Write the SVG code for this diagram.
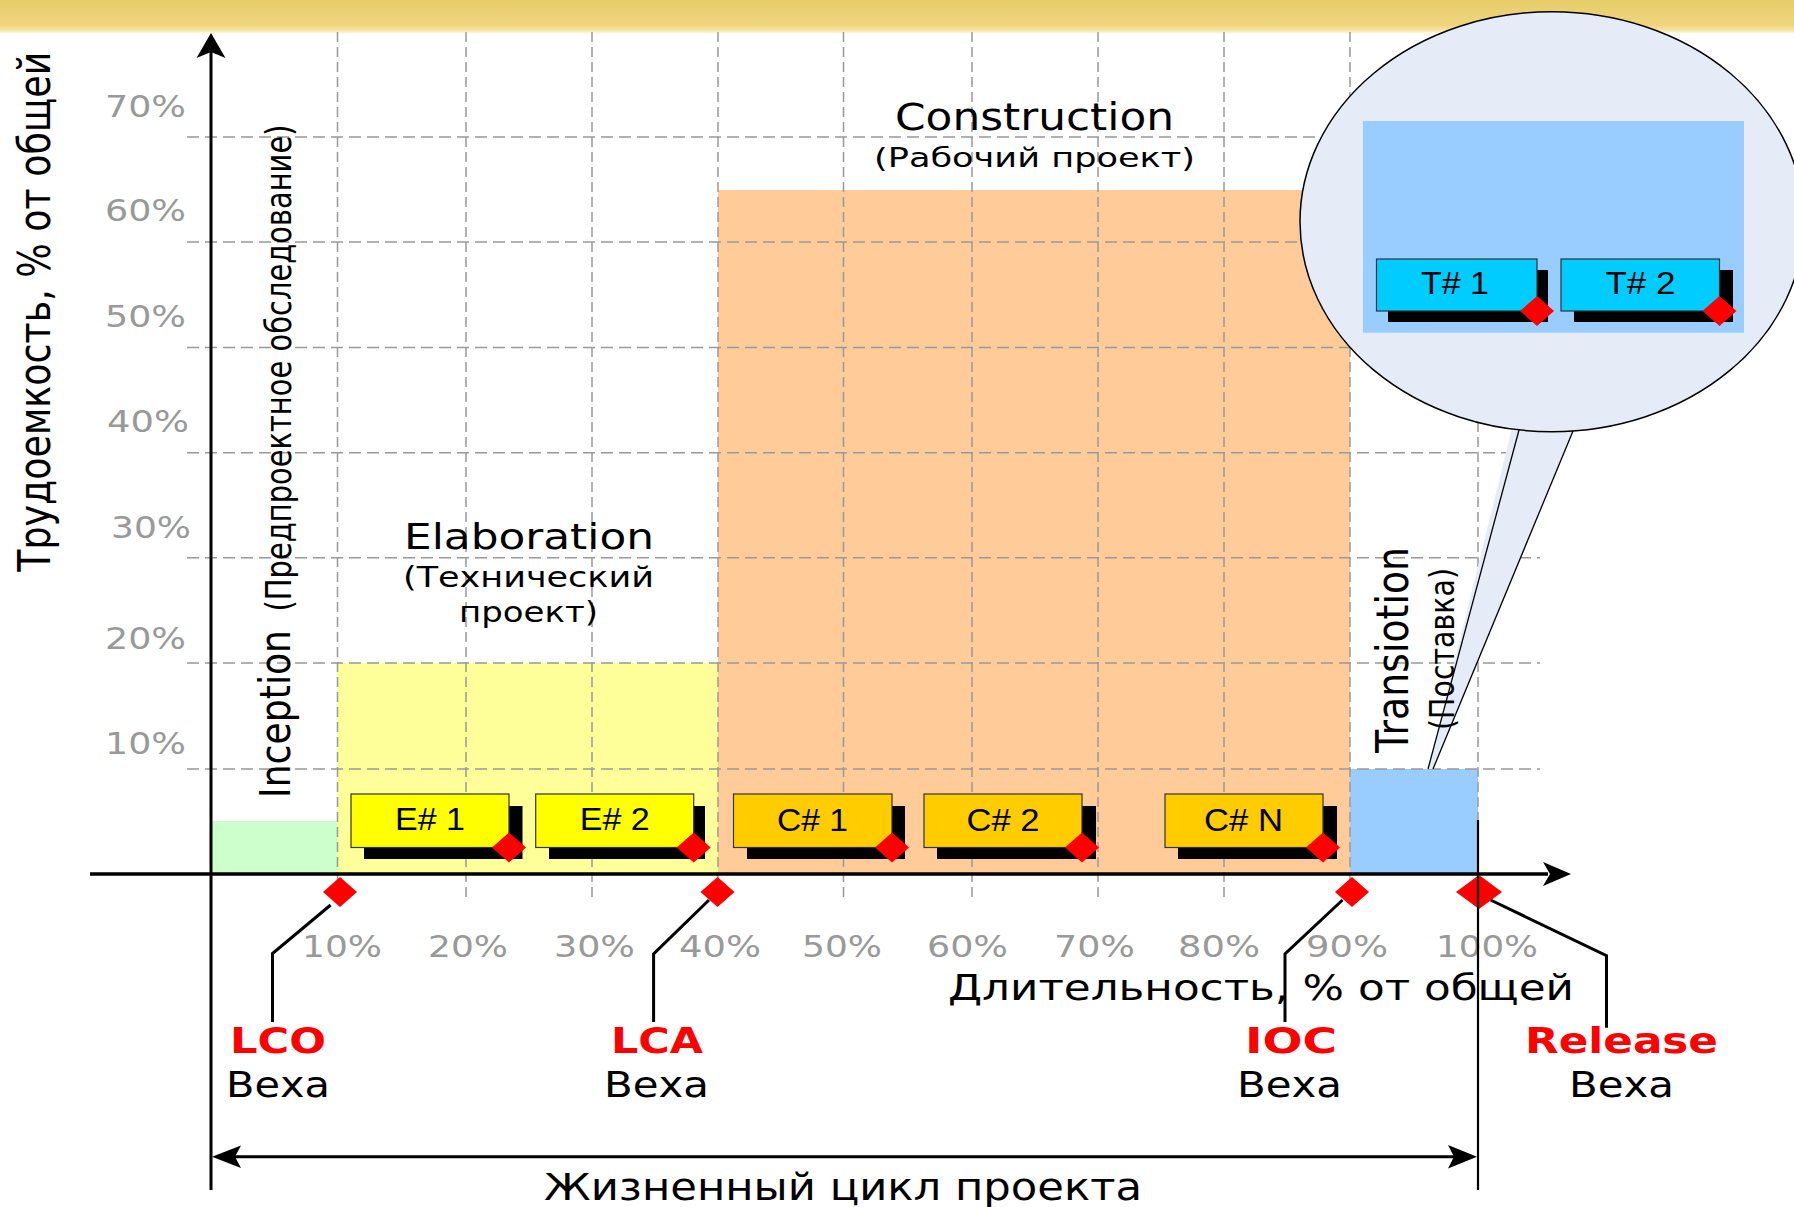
<svg xmlns="http://www.w3.org/2000/svg" width="1794" height="1207" viewBox="0 0 1794 1207">
<defs>
<linearGradient id="hdr" x1="0" y1="0" x2="0" y2="1">
<stop offset="0" stop-color="#E8CC6A"/>
<stop offset="0.75" stop-color="#EFD67D"/>
<stop offset="0.9" stop-color="#F6E6AC"/>
<stop offset="1" stop-color="#FFFFFF"/>
</linearGradient>
<path id="dia" d="M0,-15 L17,0 L0,15 L-17,0 Z"/>
<style>
.gh{stroke:#999;stroke-width:1.5;stroke-dasharray:12 6;fill:none}
.gv{stroke:#999;stroke-width:1.5;stroke-dasharray:10 5;fill:none}
.pct{font-family:"DejaVu Sans",Verdana,sans-serif;font-size:30px;fill:#999}
.t{font-family:"DejaVu Sans",Verdana,sans-serif;fill:#000}
.ms{font-family:"DejaVu Sans",Verdana,sans-serif;font-weight:bold;font-size:36px;fill:#FF0000;text-anchor:middle}
.vx{font-family:"DejaVu Sans",Verdana,sans-serif;font-size:35px;fill:#000;text-anchor:middle}
.bt{font-family:"Liberation Sans",Arial,sans-serif;font-size:31px;fill:#000;text-anchor:middle}
.sh{fill:#000}
.eb{fill:#FFFF00;stroke:#333;stroke-width:1.2}
.cb{fill:#FFCC00;stroke:#333;stroke-width:1.2}
.tb{fill:#00CCFF;stroke:#333;stroke-width:1.2}
.rd{fill:#FF0000}
.ln{stroke:#000;stroke-width:3;fill:none}
</style>
</defs>

<rect x="0" y="0" width="1794" height="1207" fill="#FFFFFF"/>
<rect id="header" x="0" y="0" width="1794" height="34" fill="url(#hdr)"/>

<g id="phases">
<rect id="inception-area" x="211" y="821" width="126.5" height="53" fill="#CCFFCC"/>
<rect id="elaboration-area" x="337.5" y="663" width="380.5" height="211" fill="#FFFF99"/>
<rect id="construction-area" x="718" y="190" width="632" height="684" fill="#FFCC99"/>
<rect id="transition-area" x="1350" y="769" width="128" height="105" fill="#99CCFF"/>
</g>

<g id="grid">
<line class="gh" x1="187" y1="137" x2="1540" y2="137"/>
<line class="gh" x1="187" y1="242" x2="1540" y2="242"/>
<line class="gh" x1="187" y1="347.5" x2="1540" y2="347.5"/>
<line class="gh" x1="187" y1="452.7" x2="1540" y2="452.7"/>
<line class="gh" x1="187" y1="557.7" x2="1540" y2="557.7"/>
<line class="gh" x1="187" y1="663" x2="1540" y2="663"/>
<line class="gh" x1="187" y1="769" x2="1540" y2="769"/>
<line class="gv" x1="337.5" y1="32" x2="337.5" y2="900"/>
<line class="gv" x1="466" y1="32" x2="466" y2="900"/>
<line class="gv" x1="592" y1="32" x2="592" y2="900"/>
<line class="gv" x1="718" y1="32" x2="718" y2="900"/>
<line class="gv" x1="843.5" y1="32" x2="843.5" y2="900"/>
<line class="gv" x1="972" y1="32" x2="972" y2="900"/>
<line class="gv" x1="1098" y1="32" x2="1098" y2="900"/>
<line class="gv" x1="1224" y1="32" x2="1224" y2="900"/>
<line class="gv" x1="1350" y1="32" x2="1350" y2="900"/>
<line class="gv" x1="1478" y1="32" x2="1478" y2="900"/>
</g>

<g id="y-labels">
<text class="pct" x="186" y="116.7" text-anchor="end" textLength="81" lengthAdjust="spacingAndGlyphs">70%</text>
<text class="pct" x="186" y="221" text-anchor="end" textLength="81" lengthAdjust="spacingAndGlyphs">60%</text>
<text class="pct" x="186" y="326.5" text-anchor="end" textLength="81" lengthAdjust="spacingAndGlyphs">50%</text>
<text class="pct" x="189" y="432" text-anchor="end" textLength="82" lengthAdjust="spacingAndGlyphs">40%</text>
<text class="pct" x="191" y="537.5" text-anchor="end" textLength="80" lengthAdjust="spacingAndGlyphs">30%</text>
<text class="pct" x="186" y="648.5" text-anchor="end" textLength="81" lengthAdjust="spacingAndGlyphs">20%</text>
<text class="pct" x="186" y="754" text-anchor="end" textLength="81" lengthAdjust="spacingAndGlyphs">10%</text>
</g>

<g id="x-labels">
<text class="pct" x="342" y="956.5" text-anchor="middle" textLength="80" lengthAdjust="spacingAndGlyphs">10%</text>
<text class="pct" x="468" y="956.5" text-anchor="middle" textLength="80" lengthAdjust="spacingAndGlyphs">20%</text>
<text class="pct" x="594.5" y="956.5" text-anchor="middle" textLength="81" lengthAdjust="spacingAndGlyphs">30%</text>
<text class="pct" x="720" y="956.5" text-anchor="middle" textLength="82" lengthAdjust="spacingAndGlyphs">40%</text>
<text class="pct" x="842" y="956.5" text-anchor="middle" textLength="80" lengthAdjust="spacingAndGlyphs">50%</text>
<text class="pct" x="967.5" y="956.5" text-anchor="middle" textLength="81" lengthAdjust="spacingAndGlyphs">60%</text>
<text class="pct" x="1094.5" y="956.5" text-anchor="middle" textLength="81" lengthAdjust="spacingAndGlyphs">70%</text>
<text class="pct" x="1219" y="956.5" text-anchor="middle" textLength="82" lengthAdjust="spacingAndGlyphs">80%</text>
<text class="pct" x="1347" y="956.5" text-anchor="middle" textLength="82" lengthAdjust="spacingAndGlyphs">90%</text>
<text class="pct" x="1487" y="956.5" text-anchor="middle" textLength="102" lengthAdjust="spacingAndGlyphs">100%</text>
</g>

<g id="phase-labels">
<text class="t" transform="matrix(0 -1 1.2 0 289.5 798)" font-size="36" textLength="168" lengthAdjust="spacingAndGlyphs">Inception</text>
<text class="t" transform="matrix(0 -1 1.2 0 291 611.5)" font-size="29" textLength="487" lengthAdjust="spacingAndGlyphs">(Предпроектное обследование)</text>
<text class="t" x="529" y="549.3" font-size="36" text-anchor="middle" textLength="250" lengthAdjust="spacingAndGlyphs">Elaboration</text>
<text class="t" x="528.5" y="586.7" font-size="28" text-anchor="middle" textLength="251" lengthAdjust="spacingAndGlyphs">(Технический</text>
<text class="t" x="528.5" y="621.7" font-size="28" text-anchor="middle" textLength="139" lengthAdjust="spacingAndGlyphs">проект)</text>
<text class="t" x="1034.5" y="130" font-size="37" text-anchor="middle" textLength="279" lengthAdjust="spacingAndGlyphs">Construction</text>
<text class="t" x="1034.5" y="166.7" font-size="27" text-anchor="middle" textLength="321" lengthAdjust="spacingAndGlyphs">(Рабочий проект)</text>
</g>

<g id="axis-titles">
<text class="t" transform="matrix(0 -1 1.2 0 50 571.7)" font-size="37" textLength="520" lengthAdjust="spacingAndGlyphs">Трудоемкость, % от общей</text>
<text class="t" x="1261" y="1000" font-size="36" text-anchor="middle" textLength="626" lengthAdjust="spacingAndGlyphs">Длительность, % от общей</text>
<text class="t" x="843" y="1200" font-size="37" text-anchor="middle" textLength="598" lengthAdjust="spacingAndGlyphs">Жизненный цикл проекта</text>
</g>

<g id="iter-e1">
<rect class="sh" x="364" y="806" width="158.5" height="53"/>
<rect class="eb" x="351" y="794" width="158" height="53.5"/>
<text class="bt" x="430" y="830" textLength="70" lengthAdjust="spacingAndGlyphs">E# 1</text>
<use href="#dia" class="rd" x="509" y="847.5"/>
</g>
<g id="iter-e2">
<rect class="sh" x="549" y="806" width="156" height="53"/>
<rect class="eb" x="535.7" y="794" width="158" height="53.5"/>
<text class="bt" x="614.7" y="830" textLength="70" lengthAdjust="spacingAndGlyphs">E# 2</text>
<use href="#dia" class="rd" x="693.7" y="847.5"/>
</g>
<g id="iter-c1">
<rect class="sh" x="747" y="806" width="158" height="53"/>
<rect class="cb" x="733.5" y="794" width="158.5" height="53.5"/>
<text class="bt" x="812.5" y="831" textLength="71" lengthAdjust="spacingAndGlyphs">C# 1</text>
<use href="#dia" class="rd" x="892" y="847.5"/>
</g>
<g id="iter-c2">
<rect class="sh" x="937" y="806" width="159" height="53"/>
<rect class="cb" x="924" y="794" width="158" height="53.5"/>
<text class="bt" x="1003" y="831" textLength="73" lengthAdjust="spacingAndGlyphs">C# 2</text>
<use href="#dia" class="rd" x="1082" y="847.5"/>
</g>
<g id="iter-cn">
<rect class="sh" x="1178" y="806" width="159" height="53"/>
<rect class="cb" x="1165" y="794" width="158" height="53.5"/>
<text class="bt" x="1243.5" y="831" textLength="79" lengthAdjust="spacingAndGlyphs">C# N</text>
<use href="#dia" class="rd" x="1323" y="847.5"/>
</g>

<g id="zoom-callout">
<path d="M1514,420 L1428,769 L1433,769 L1578,420 Z" fill="#E6ECF7"/>
<ellipse cx="1552" cy="221.7" rx="252" ry="210" fill="#E6ECF7" stroke="#000" stroke-width="1.5"/>
<path d="M1508,410 L1578,410 L1575,428 L1514,428 Z" fill="#E6ECF7"/>
<line x1="1519" y1="430" x2="1428" y2="769" stroke="#000" stroke-width="1.3"/>
<line x1="1573" y1="431" x2="1433" y2="769" stroke="#000" stroke-width="1.3"/>
<rect x="1363" y="121" width="381" height="211.7" fill="#99CCFF"/>
</g>
<g id="transition-labels">
<text class="t" transform="matrix(0 -1 1.2 0 1407.5 753)" font-size="37" textLength="206" lengthAdjust="spacingAndGlyphs">Transiotion</text>
<text class="t" transform="matrix(0 -1 1.2 0 1454 730)" font-size="28.6" textLength="162" lengthAdjust="spacingAndGlyphs">(Поставка)</text>
</g>
<g id="iter-t1">
<rect class="sh" x="1388" y="270" width="160" height="52"/>
<rect class="tb" x="1376.5" y="259" width="160.5" height="52"/>
<text class="bt" x="1455" y="294" textLength="68" lengthAdjust="spacingAndGlyphs">T# 1</text>
<use href="#dia" class="rd" x="1537" y="311"/>
</g>
<g id="iter-t2">
<rect class="sh" x="1574" y="270" width="159" height="52"/>
<rect class="tb" x="1561" y="259" width="158.5" height="52"/>
<text class="bt" x="1640.5" y="294" textLength="70" lengthAdjust="spacingAndGlyphs">T# 2</text>
<use href="#dia" class="rd" x="1719.5" y="311"/>
</g>

<g id="connectors">
<line x1="90" y1="874" x2="1548" y2="874" stroke="#000" stroke-width="3.3"/>
<path d="M1571,874 L1543,862 L1550,874 L1543,886 Z" fill="#000"/>
<line x1="211" y1="50" x2="211" y2="1190" stroke="#000" stroke-width="3"/>
<path d="M211,33 L196.5,58 L211,52 L225.5,58 Z" fill="#000"/>
<line x1="230" y1="1156.7" x2="1460" y2="1156.7" stroke="#000" stroke-width="3"/>
<path d="M212,1156.7 L241,1145.5 L235,1156.7 L241,1168 Z" fill="#000"/>
<path d="M1477,1156.7 L1448,1145 L1454,1156.7 L1448,1168.5 Z" fill="#000"/>
<polyline class="ln" points="330.6,905 272.5,953.5 272.5,1022"/>
<polyline class="ln" points="709,900 653.6,954 653.6,1022"/>
<polyline class="ln" points="1342.5,900 1285,954 1285,1022"/>
<polyline class="ln" points="1490.6,900 1606.5,955.7 1606.5,1027.7"/>
</g>

<g id="ms-lco">
<use href="#dia" class="rd" x="340" y="892"/>
<text class="ms" x="278" y="1053" textLength="96" lengthAdjust="spacingAndGlyphs">LCO</text>
<text class="vx" x="278" y="1097" textLength="104" lengthAdjust="spacingAndGlyphs">Веха</text>
</g>
<g id="ms-lca">
<use href="#dia" class="rd" x="717.5" y="892"/>
<text class="ms" x="657" y="1053" textLength="92" lengthAdjust="spacingAndGlyphs">LCA</text>
<text class="vx" x="656.5" y="1097" textLength="105" lengthAdjust="spacingAndGlyphs">Веха</text>
</g>
<g id="ms-ioc">
<use href="#dia" class="rd" x="1352" y="892"/>
<text class="ms" x="1291" y="1053" textLength="92" lengthAdjust="spacingAndGlyphs">IOC</text>
<text class="vx" x="1289.5" y="1097" textLength="105" lengthAdjust="spacingAndGlyphs">Веха</text>
</g>
<g id="ms-release">
<path class="rd" d="M1479,875 L1502,892 L1479,909 L1456,892 Z"/>
<text class="ms" x="1621.5" y="1053" textLength="193" lengthAdjust="spacingAndGlyphs">Release</text>
<text class="vx" x="1621.5" y="1097" textLength="105" lengthAdjust="spacingAndGlyphs">Веха</text>
</g>
<line id="end-line" x1="1478" y1="820" x2="1478" y2="1190" stroke="#000" stroke-width="2.2"/>
</svg>
